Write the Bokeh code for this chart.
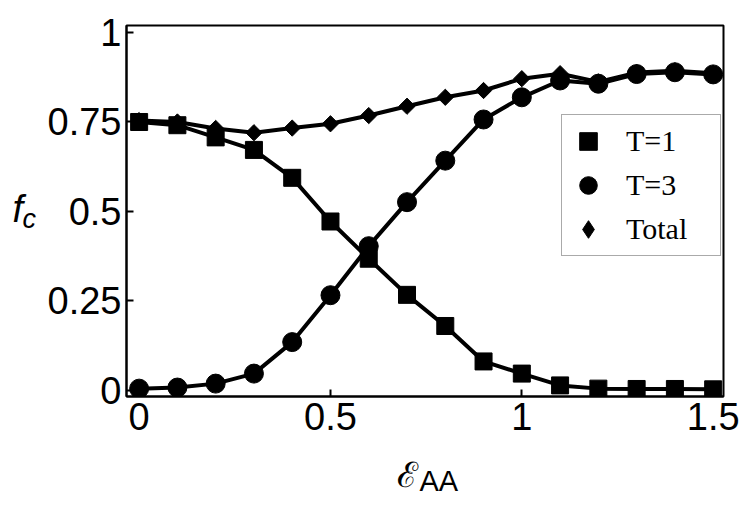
import numpy as np
from bokeh.plotting import figure
from bokeh.layouts import row, column
from bokeh.models import Range1d, FixedTicker, Label, Legend, LegendItem
from bokeh.embed import file_html
from bokeh.resources import INLINE

# ---- data ----
eps_aa = [0.0, 0.1, 0.2, 0.3, 0.4, 0.5, 0.6, 0.7, 0.8, 0.9, 1.0, 1.1, 1.2, 1.3, 1.4, 1.5]
fc_T1 = [0.750, 0.741, 0.707, 0.672, 0.594, 0.472, 0.368, 0.267, 0.180, 0.081,
         0.047, 0.014, 0.005, 0.004, 0.004, 0.003]
fc_T3 = [0.005, 0.008, 0.019, 0.047, 0.135, 0.266, 0.403, 0.526, 0.642, 0.757,
         0.819, 0.866, 0.857, 0.884, 0.889, 0.883]
fc_total = [0.754, 0.750, 0.732, 0.720, 0.733, 0.745, 0.768, 0.794, 0.819, 0.838,
            0.871, 0.885, 0.862, 0.888, 0.893, 0.886]
x_ticks = [0, 0.5, 1, 1.5]
x_tick_labels = ["0", "0.5", "1", "1.5"]
y_ticks = [0, 0.25, 0.5, 0.75, 1]
y_tick_labels = ["0", "0.25", "0.5", "0.75", "1"]
legend_labels = ["T=1", "T=3", "Total"]

# ---- layout (page pixels) ----
PAGE_W, PAGE_H = 751, 510
X0, X1 = -0.033, 1.527
Y0, Y1 = -0.017, 1.0196
LEFT_W = 40                 # strip holding the y label
FRAME_L, FRAME_T = 126, 25  # frame position on the page
FRAME_W, FRAME_H = 597, 371
MAIN_BOTTOM = 56
MAIN_H = FRAME_T + FRAME_H + MAIN_BOTTOM
MAIN_W = PAGE_W - LEFT_W
BOTTOM_H = PAGE_H - MAIN_H

p = figure(width=MAIN_W, height=MAIN_H, output_backend="svg", toolbar_location=None,
           x_range=Range1d(X0, X1), y_range=Range1d(Y0, Y1),
           min_border_left=FRAME_L - LEFT_W,
           min_border_right=MAIN_W - (FRAME_L - LEFT_W) - FRAME_W,
           min_border_top=FRAME_T, min_border_bottom=MAIN_BOTTOM)
p.grid.visible = False
p.outline_line_color = "black"
p.outline_line_width = 2
p.background_fill_color = "white"
p.border_fill_color = "white"

for ax, ticks, labels in ((p.xaxis, x_ticks, x_tick_labels), (p.yaxis, y_ticks, y_tick_labels)):
    ax.ticker = FixedTicker(ticks=ticks)
    ax.major_label_overrides = {t: l for t, l in zip(ticks, labels)}
    ax.major_label_text_font = "Liberation Sans"
    ax.major_label_text_font_size = "38px"
    ax.major_label_text_color = "black"
    ax.major_tick_in = 7
    ax.major_tick_out = 0
    ax.major_tick_line_width = 2
    ax.major_tick_line_color = "black"
    ax.minor_tick_line_color = None
    ax.axis_line_width = 2
    ax.axis_line_color = "black"
p.xaxis.major_label_standoff = 6
p.yaxis.major_label_standoff = 5

lw = 4
# Total
p.line(eps_aa, fc_total, line_color="black", line_width=lw)
p.scatter(eps_aa, fc_total, marker="square", angle=np.pi / 4, size=11.5,
          fill_color="black", line_color="black")
# T = 3
p.line(eps_aa, fc_T3, line_color="black", line_width=lw)
r_t3 = p.scatter(eps_aa, fc_T3, marker="circle", size=19,
                 fill_color="black", line_color="black")
# T = 1
p.line(eps_aa, fc_T1, line_color="black", line_width=lw)
r_t1 = p.scatter(eps_aa, fc_T1, marker="square", size=17,
                 fill_color="black", line_color="black")
# legend-only key symbol for the total (a NaN point that is never drawn)
r_tot_key = p.scatter(x=[np.nan], y=[np.nan], marker="diamond", size=10,
                      fill_color="black", line_color="black")

legend = Legend(items=[LegendItem(label=legend_labels[0], renderers=[r_t1]),
                       LegendItem(label=legend_labels[1], renderers=[r_t3]),
                       LegendItem(label=legend_labels[2], renderers=[r_tot_key])],
                location=(435, 140), margin=0, padding=4, spacing=0,
                glyph_width=44, glyph_height=44, label_standoff=16, label_width=90,
                label_text_font="Liberation Serif", label_text_font_size="30px",
                label_text_color="black",
                border_line_color="#555555", border_line_width=1,
                background_fill_color="white", background_fill_alpha=1)
p.add_layout(legend)


def strip(w, h):
    f = figure(width=w, height=h, output_backend="svg", toolbar_location=None,
               x_range=Range1d(0, w), y_range=Range1d(0, h),
               x_axis_location=None, y_axis_location=None, min_border=0)
    f.grid.visible = False
    f.outline_line_color = None
    f.background_fill_color = "white"
    f.border_fill_color = "white"
    return f


def lab(fig, x, y, text, size, font="Liberation Sans", style="normal"):
    fig.add_layout(Label(x=x, y=y, text=text, text_font=font,
                         text_font_size=size, text_font_style=style,
                         text_align="left", text_baseline="alphabetic",
                         text_color="black"))


left = strip(LEFT_W, MAIN_H)
lab(left, 12, MAIN_H - 223, "f", "38px", style="italic")
lab(left, 22, MAIN_H - 236, "c", "27px", style="italic")

bottom = strip(PAGE_W, BOTTOM_H)
lab(bottom, 396, PAGE_H - 474, "\u2130", "35px", font="DejaVu Serif")
lab(bottom, 419, PAGE_H - 480, "AA", "29px")

layout = column(row(left, p), bottom)

open("out.html", "w").write(file_html(layout, INLINE))
